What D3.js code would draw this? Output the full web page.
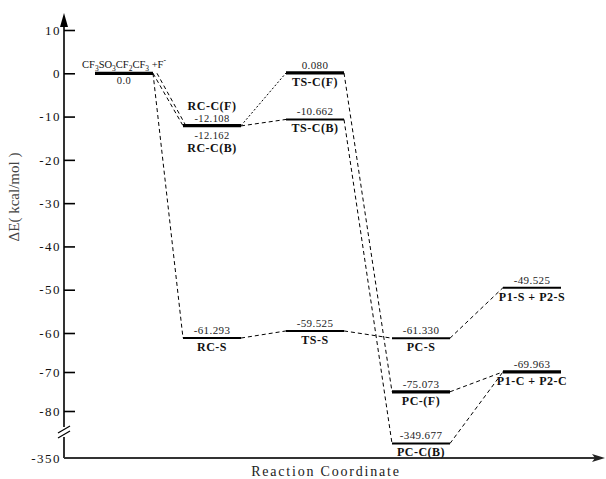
<!doctype html>
<html>
<head>
<meta charset="utf-8">
<script src="https://d3js.org/d3.v7.min.js"></script>
<style>
  body { margin: 0; background: #fff; }
  text { font-family: "Liberation Serif", "Times New Roman", serif; }
</style>
</head>
<body>
<script>
// ---- data ----
const states      = ["Reactant", "RC-C(F)", "RC-C(B)", "TS-C(F)", "TS-C(B)", "RC-S", "TS-S",
                     "PC-S", "PC-(F)", "PC-C(B)", "P1-S + P2-S", "P1-C + P2-C"];
const energies    = [0.0, -12.108, -12.162, 0.080, -10.662, -61.293, -59.525,
                     -61.330, -75.073, -349.677, -49.525, -69.963];
const valueLabels = ["0.0", "-12.108", "-12.162", "0.080", "-10.662", "-61.293", "-59.525",
                     "-61.330", "-75.073", "-349.677", "-49.525", "-69.963"];
const steps       = [0, 1, 1, 2, 2, 1, 2, 3, 3, 3, 4, 4];
const links       = [[0,1],[0,2],[0,5],[1,3],[2,4],[5,6],[6,7],[3,8],[4,9],[7,10],[8,11],[9,11]];
const yTicks      = [10, 0, -10, -20, -30, -40, -50, -60, -70, -80, -350];
const formula     = [["CF",0],["3",1],["SO",0],["3",1],["CF",0],["2",1],["CF",0],["3",1],[" +F",0],["-",2]];

// ---- layout ----
const width = 606, height = 479;
const axisX = 64, halfW = 29;
const thickLevels = new Set(["Reactant", "RC-C(F)", "TS-C(F)", "PC-(F)", "P1-C + P2-C"]);

const x = d3.scaleLinear().domain([0, 1, 2, 3, 4]).range([124, 212, 315, 421, 532]);
// broken axis: upper part roughly linear, jump between -80 and -350
const y = d3.scaleLinear().domain([10, -60, -80, -349.6, -350]).range([30, 333, 411, 440, 458]);

const svg = d3.select("body").append("svg")
    .attr("width", width).attr("height", height);

/* ----- y axis ----- */
const yAxis = d3.axisLeft(y).tickValues(yTicks).tickFormat(d => String(d))
    .tickSizeInner(-11).tickSizeOuter(0).tickPadding(3);
const gy = svg.append("g").attr("transform", "translate(" + axisX + ",0)").call(yAxis);
gy.select(".domain").remove();
gy.selectAll(".tick line").attr("stroke", "#000").attr("stroke-width", 1.6)
  .filter(d => d === -350).remove();
gy.selectAll(".tick text")
  .attr("font-family", "Liberation Serif, serif")
  .attr("font-size", 13).attr("letter-spacing", 1.5).attr("fill", "#111");

// axis line with break marks and arrow
svg.append("path")
  .attr("d", "M" + axisX + "," + y(-350) + "V437M" + axisX + ",427V24")
  .attr("stroke", "#000").attr("stroke-width", 1.6).attr("fill", "none");
[0, 5].forEach(o => {
  svg.append("line")
    .attr("x1", axisX - 6).attr("y1", 433 + o).attr("x2", axisX + 6).attr("y2", 426 + o)
    .attr("stroke", "#000").attr("stroke-width", 1.2);
});
svg.append("path")
  .attr("d", "M" + axisX + ",13L" + (axisX + 4) + ",27L" + (axisX - 4) + ",27Z")
  .attr("fill", "#000");

/* ----- x axis ----- */
svg.append("line")
  .attr("x1", axisX).attr("y1", y(-350)).attr("x2", 600).attr("y2", y(-350))
  .attr("stroke", "#333").attr("stroke-width", 2);
svg.append("path")
  .attr("d", "M605," + y(-350) + "L592," + (y(-350) - 4) + "L595," + y(-350) + "L592," + (y(-350) + 4) + "Z")
  .attr("fill", "#222");

svg.append("text")
  .attr("x", 326).attr("y", 476).attr("text-anchor", "middle")
  .attr("font-size", 14).attr("letter-spacing", 1.8).attr("fill", "#222")
  .text("Reaction Coordinate");

svg.append("text")
  .attr("transform", "translate(19,197) rotate(-90)").attr("text-anchor", "middle")
  .attr("font-size", 15).attr("fill", "#444")
  .text("\u0394E( kcal/mol )");

/* ----- connectors ----- */
svg.append("g").selectAll("line")
  .data(links)
  .join("line")
    .attr("x1", d => x(steps[d[0]]) + halfW + (d[1] === 2 ? 4 : 0))
    .attr("y1", d => y(energies[d[0]]))
    .attr("x2", d => x(steps[d[1]]) - halfW + (d[1] === 2 ? 3 : 0))
    .attr("y2", d => y(energies[d[1]]))
    .attr("stroke", "#000").attr("stroke-width", 1)
    .attr("stroke-dasharray", d => (d[0] === 1 && d[1] === 3) ? "2,2" : "4,3");

/* ----- energy levels ----- */
svg.append("g").selectAll("g")
  .data(states)
  .join("g")
  .each(function(name, i) {
    const g = d3.select(this);
    const cx = x(steps[i]), ly = y(energies[i]);
    g.append("line")
      .attr("x1", cx - halfW).attr("x2", cx + halfW).attr("y1", ly).attr("y2", ly)
      .attr("stroke", "#000").attr("stroke-width", thickLevels.has(name) ? 3.2 : 2);

    const val = (dy, fs) => g.append("text").attr("x", cx).attr("y", ly + dy)
      .attr("text-anchor", "middle").attr("font-size", fs || 11).attr("letter-spacing", 0.4)
      .attr("fill", "#222").text(valueLabels[i]);
    const lab = (dy) => g.append("text").attr("x", cx).attr("y", ly + dy)
      .attr("text-anchor", "middle").attr("font-size", 12).attr("font-weight", "bold")
      .attr("letter-spacing", 0.5).attr("fill", "#111").text(name);

    if (name === "Reactant") {
      const t = g.append("text").attr("x", cx).attr("y", ly - 5)
        .attr("text-anchor", "middle").attr("font-size", 10.5).attr("fill", "#111");
      let shift = 0;   // current baseline offset
      formula.forEach(p => {
        const target = p[1] === 1 ? 3 : (p[1] === 2 ? -5 : 0);
        t.append("tspan")
          .attr("dy", target - shift)
          .attr("font-size", p[1] ? 7.5 : 10.5)
          .text(p[0]);
        shift = target;
      });
      val(11, 10.5);
    } else if (name === "RC-C(F)") {
      lab(-16);
      val(-4, 10.5);
    } else if (name === "RC-C(B)") {
      val(13, 10.5);
      lab(26);
    } else {
      val(-4);
      lab(13);
    }
  });
</script>
</body>
</html>
